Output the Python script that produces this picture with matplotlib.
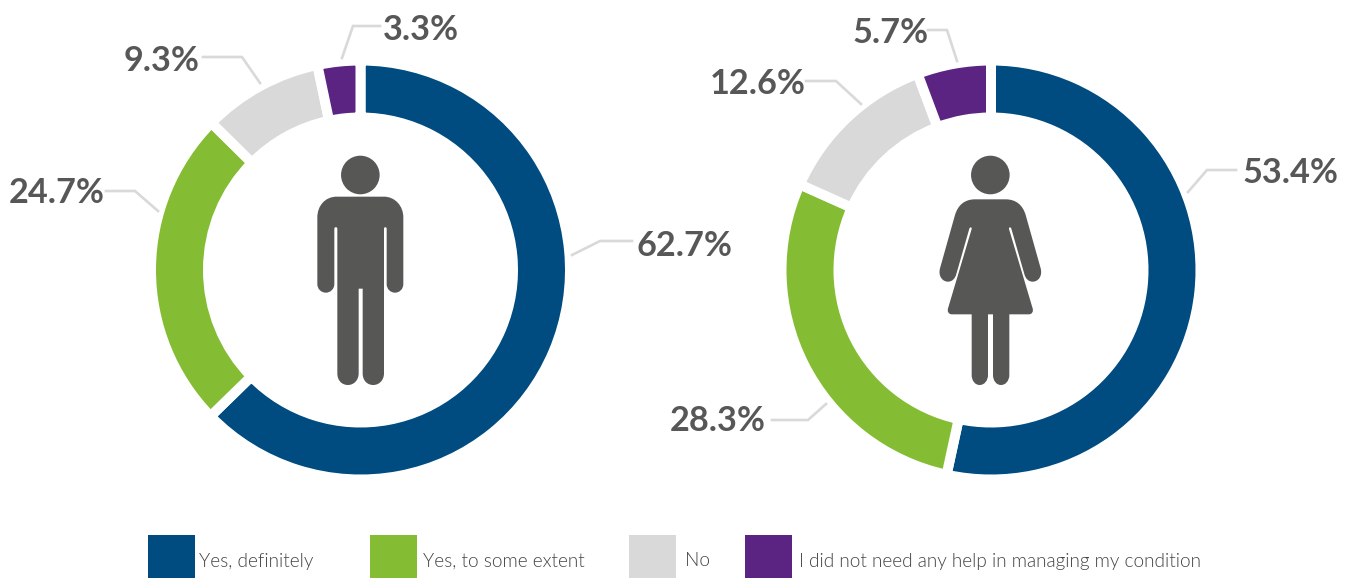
import matplotlib
matplotlib.use("Agg")
import matplotlib.pyplot as plt
from matplotlib.patches import Circle, PathPatch, Rectangle
from matplotlib.path import Path

W, H = 1356, 578

categories = ["Yes, definitely", "Yes, to some extent", "No",
              "I did not need any help in managing my condition"]
men_values = [62.7, 24.7, 9.3, 3.3]
women_values = [53.4, 28.3, 12.6, 5.7]
colors = ["#004B80", "#84BD33", "#D9D9D9", "#5C2482"]
dark = "#575756"

# label centre + leader line, in picture pixels (y down)
men_labels = [((684, 246), [(632, 241), (600, 241), (572, 255)]),
              ((57, 193), [(106, 191), (135, 191), (158, 211)]),
              ((162, 61), [(203, 57), (242, 57), (260, 83)]),
              ((421, 30), [(380, 26), (353, 26), (342, 58)])]
women_labels = [((1290, 173), [(1236, 170), (1207, 170), (1188, 192)]),
                ((718, 421), [(772, 420), (808, 420), (826, 404)]),
                ((758, 84), [(806, 81), (836, 81), (861, 104)]),
                ((891, 33), [(928, 30), (947, 30), (957, 61)])]

legend_x = [148, 370, 629, 745]
legend_text_x = [199, 423, 685, 799]


def fy(y):
    return H - y


def donut(ax, values, cx):
    # white edge makes the gaps, so radius and width are padded by half of it
    ax.pie(values, colors=colors, center=(cx, fy(270)), radius=209.5, startangle=90,
           counterclock=False, frame=True,
           wedgeprops=dict(width=57, edgecolor="white", linewidth=7.2))


def labels(ax, values, items):
    for v, ((x, y), line) in zip(values, items):
        ax.plot([p[0] for p in line], [fy(p[1]) for p in line], color="#D9D9D9", lw=1.9,
                solid_joinstyle="miter", zorder=1)
        ax.text(x, fy(y), "%.1f%%" % v, fontsize=24.7, fontweight="bold", color=dark,
                family="Lato", ha="center", va="center")


def figure_icon(ax, ox, segs):
    # segs are in crop pixels at 3x, crop starts at (ox, 130)
    verts, codes = [], []
    for seg in segs:
        if len(seg) == 2 and not verts:
            verts.append(seg)
            codes.append(Path.MOVETO)
        elif len(seg) == 2:
            verts.append(seg)
            codes.append(Path.LINETO)
        else:
            verts += [seg[0], seg[1], seg[2]]
            codes += [Path.CURVE4] * 3
    verts.append(verts[0])
    codes.append(Path.CLOSEPOLY)
    verts = [(ox + x / 3, fy(130 + y / 3)) for x, y in verts]
    ax.add_patch(PathPatch(Path(verts, codes), fc=dark, ec="none", zorder=3))
    ax.add_patch(Circle((ox + 241 / 3, fy(130 + 135 / 3)), 19.3, fc=dark, ec="none", zorder=3))


man = [(170, 200), (312, 200), ((345, 200), (370, 228), (370, 262)), (370, 462),
       ((370, 478), (358, 488), (345, 488)), ((332, 488), (320, 478), (320, 462)),
       (320, 296), ((320, 290), (312, 290), (312, 296)), (312, 730),
       ((312, 752), (296, 765), (280, 765)), ((262, 765), (248, 752), (248, 730)),
       (248, 476), (236, 476), (236, 730),
       ((236, 752), (220, 765), (204, 765)), ((186, 765), (172, 752), (172, 730)),
       (172, 296), ((172, 290), (163, 290), (163, 296)), (163, 462),
       ((163, 478), (150, 488), (138, 488)), ((124, 488), (112, 478), (112, 462)),
       (112, 262), ((112, 228), (135, 200), (170, 200))]

woman = [(195, 208), (287, 208), ((318, 208), (338, 225), (347, 255)), (392, 415),
         ((398, 438), (385, 455), (368, 455)), ((356, 455), (347, 447), (343, 432)),
         (304, 296), ((302, 290), (296, 291), (297, 297)), (367, 532),
         ((372, 545), (366, 553), (356, 553)), (298, 553), (298, 735),
         ((298, 752), (287, 765), (273, 765)), ((259, 765), (249, 752), (249, 735)),
         (249, 553), (234, 553), (234, 735),
         ((234, 752), (223, 765), (209, 765)), ((195, 765), (185, 752), (185, 735)),
         (185, 553), (126, 553), ((116, 553), (110, 545), (115, 532)),
         (185, 297), ((186, 291), (180, 290), (178, 296)), (139, 432),
         ((135, 447), (126, 455), (114, 455)), ((97, 455), (84, 438), (90, 415)),
         (135, 255), ((144, 225), (164, 208), (195, 208))]

fig = plt.figure(figsize=(W / 100, H / 100), dpi=100)
ax = fig.add_axes([0, 0, 1, 1])

donut(ax, men_values, 360.5)
donut(ax, women_values, 991)
labels(ax, men_values, men_labels)
labels(ax, women_values, women_labels)
figure_icon(ax, 280, man)
figure_icon(ax, 910, woman)

for name, c, x, tx in zip(categories, colors, legend_x, legend_text_x):
    ax.add_patch(Rectangle((x, 0), 47, 43, fc=c, ec="none"))
    ax.text(tx, fy(561), name, fontsize=13.7, fontweight=300, color="#444444",
            family="Lato", ha="left", va="center")

ax.set_xlim(0, W)
ax.set_ylim(0, H)
ax.set_aspect("equal")
ax.axis("off")
fig.savefig("out.png", dpi=100)
